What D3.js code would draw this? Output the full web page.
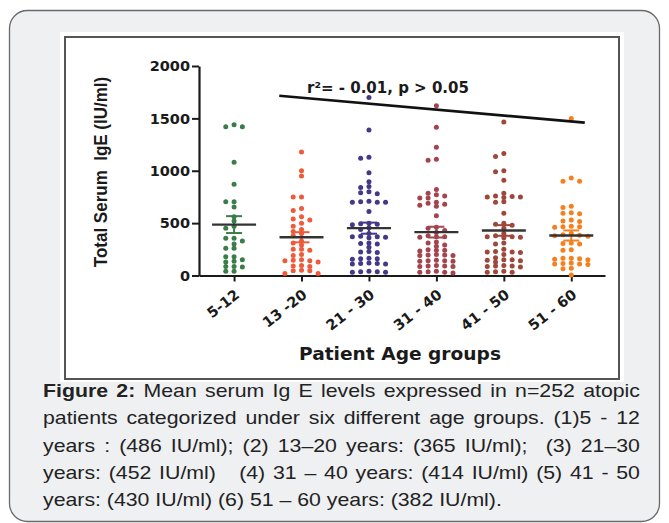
<!DOCTYPE html>
<html>
<head>
<meta charset="utf-8">
<script src="https://cdn.jsdelivr.net/npm/d3@7"></script>
<style>
  body { margin: 0; background: #fff; }
  #wrap { position: relative; width: 669px; height: 523px; overflow: hidden; }
  svg { position: absolute; left: 0; top: 0; }
  .cap {
    position: absolute; left: 43px; top: 377px; width: 533px;
    font-family: "Liberation Sans", Arial, sans-serif; font-size: 19px; line-height: 27.3px;
    color: #222; transform: scaleX(1.12); transform-origin: left top;
  }
  .cap div { text-align: justify; text-align-last: justify; white-space: nowrap; }
  .cap div.last { text-align-last: left; }
</style>
</head>
<body>
<div id="wrap">
  <svg id="chart" width="669" height="523"></svg>
  <div class="cap">
    <div><b>Figure 2:</b> Mean serum Ig E levels expressed in n=252 atopic</div>
    <div>patients categorized under six different age groups. (1)5 - 12</div>
    <div>years : (486 IU/ml); (2) 13–20 years: (365 IU/ml);&nbsp; (3) 21–30</div>
    <div>years: (452 IU/ml)&nbsp;&nbsp; (4) 31 – 40 years: (414 IU/ml) (5) 41 - 50</div>
    <div class="last">years: (430 IU/ml) (6) 51 – 60 years: (382 IU/ml).</div>
  </div>
</div>
<script>
// age groups and the mean IgE of each (from the caption)
const groups = ["5-12", "13 -20", "21 - 30", "31 - 40", "41 - 50", "51 - 60"];
const means = [486, 365, 452, 414, 430, 382];

// individual patients (IU/ml)
const g1 = [1420, 1420, 1440, 1080, 870, 705, 705, 655, 560, 520, 470, 450, 355, 355, 330, 300,
  260, 260, 180, 180, 150, 135, 130, 85, 85, 80, 40, 40];
const g2 = [1180, 1000, 950, 750, 750, 640, 620, 560, 540, 530, 500, 470, 440, 420, 400, 380,
  330, 310, 290, 250, 250, 240, 200, 190, 150, 145, 140, 140, 130, 95, 90, 85, 50, 45, 45, 20, 20];
const g3 = [1700, 1390, 1130, 1120, 980, 895, 850, 840, 800, 790, 780, 710, 705, 700, 700, 700,
  610, 500, 495, 490, 485, 455, 440, 400, 375, 370, 370, 365, 360, 310, 305, 300, 270, 230, 225,
  220, 165, 160, 160, 155, 120, 115, 115, 110, 110, 40, 35, 35, 30, 30];
const g4 = [1620, 1415, 1225, 1110, 1100, 820, 785, 770, 760, 740, 740, 700, 690, 680, 670, 660,
  570, 460, 450, 430, 410, 380, 370, 370, 365, 320, 310, 290, 280, 245, 240, 240, 235, 200, 195,
  195, 190, 190, 145, 140, 140, 135, 135, 95, 90, 90, 85, 85, 40, 35, 30, 30, 25];
const g5 = [1465, 1165, 1135, 1000, 990, 910, 785, 760, 755, 750, 750, 745, 705, 700, 595, 500,
  490, 480, 450, 400, 380, 370, 370, 365, 360, 310, 300, 250, 230, 225, 225, 220, 200, 170, 150,
  150, 145, 140, 130, 95, 90, 90, 85, 80, 40, 35, 30, 30];
const g6 = [1500, 930, 900, 900, 660, 650, 600, 595, 590, 530, 520, 515, 470, 465, 465, 460, 400,
  390, 385, 380, 375, 310, 305, 300, 245, 240, 165, 165, 160, 155, 150, 120, 115, 110, 110, 105,
  70, 65, 5];
const series = [g1, g2, g3, g4, g5, g6];

const yTicks = [0, 500, 1000, 1500, 2000];

// regression line ends (group position, IU/ml)
const trendX = [0.67, 5.2];
const trendY = [1716, 1459];

const colors = ["#3a7d49", "#ee5a3a", "#463889", "#a3444e", "#9d483b", "#f5801f"];

const svg = d3.select("#chart");

svg.append("rect")
  .attr("x", 9.5).attr("y", 10.5).attr("width", 650).attr("height", 511).attr("rx", 18)
  .attr("fill", "#eff0f2").attr("stroke", "#6a6a6a").attr("stroke-width", 1.3);
svg.append("rect")
  .attr("x", 60).attr("y", 32).attr("width", 564).attr("height", 350).attr("fill", "#fff");
svg.append("rect")
  .attr("x", 65).attr("y", 37).attr("width", 554).attr("height", 342)
  .attr("fill", "none").attr("stroke", "#555").attr("stroke-width", 2);

const x = d3.scaleLinear().domain([-0.52, 5.5]).range([199, 605]);
const y = d3.scaleLinear().domain([0, 2000]).range([275.5, 66]);

const axisFont = "'DejaVu Sans', sans-serif";

const yAxis = svg.append("g")
  .attr("transform", "translate(199,0)")
  .call(d3.axisLeft(y).tickValues(yTicks).tickFormat(d3.format("d"))
    .tickSizeInner(7).tickSizeOuter(0).tickPadding(2));
const xAxis = svg.append("g")
  .attr("transform", "translate(0,275.5)")
  .call(d3.axisBottom(x).tickValues(d3.range(groups.length)).tickFormat(i => groups[i])
    .tickSizeInner(6).tickSizeOuter(0));

[yAxis, xAxis].forEach(a => {
  a.select(".domain").attr("stroke", "#1a1a1a").attr("stroke-width", 2.2);
  a.selectAll(".tick line").attr("stroke", "#1a1a1a").attr("stroke-width", 2);
  a.selectAll("text").attr("fill", "#1a1a1a").attr("font-family", axisFont)
    .attr("font-weight", "bold").attr("font-size", 14.5);
});
xAxis.selectAll("text")
  .attr("y", 0).attr("dy", 0).attr("font-size", 14.5)
  .attr("text-anchor", "end")
  .attr("transform", "translate(6,21) rotate(-38)");

// column scatter: same values spread sideways in slots
function swarm(vals, i) {
  const placed = [];
  return vals.slice().sort((a, b) => b - a).map(v => {
    const py = y(v);
    for (let k = 0; k < 30; k++) {
      const slot = k === 0 ? 0 : (k % 2 ? -Math.ceil(k / 2) : Math.ceil(k / 2));
      if (!placed.some(p => p.slot === slot && Math.abs(p.py - py) < 4)) {
        placed.push({ slot, py });
        return { px: x(i) + slot * 8.3, py };
      }
    }
  });
}

series.forEach((vals, i) => {
  const g = svg.append("g");
  g.selectAll("circle")
    .data(swarm(vals, i))
    .enter()
    .append("circle")
    .attr("cx", d => d.px)
    .attr("cy", d => d.py)
    .attr("r", 2.5)
    .attr("fill", colors[i]);

  const sem = d3.deviation(vals) / Math.sqrt(vals.length);
  const m = means[i];
  g.append("line")
    .attr("x1", x(i)).attr("x2", x(i)).attr("y1", y(m - sem)).attr("y2", y(m + sem))
    .attr("stroke", colors[i]).attr("stroke-width", 2);
  [m - sem, m + sem].forEach(v => g.append("line")
    .attr("x1", x(i) - 8).attr("x2", x(i) + 8).attr("y1", y(v)).attr("y2", y(v))
    .attr("stroke", colors[i]).attr("stroke-width", 2));
  g.append("line")
    .attr("x1", x(i) - 22).attr("x2", x(i) + 22).attr("y1", y(m)).attr("y2", y(m))
    .attr("stroke", "#333").attr("stroke-width", 2.4);
});

svg.append("line")
  .attr("x1", x(trendX[0])).attr("y1", y(trendY[0]))
  .attr("x2", x(trendX[1])).attr("y2", y(trendY[1]))
  .attr("stroke", "#111").attr("stroke-width", 2.6);

svg.append("text")
  .attr("x", 307).attr("y", 92.5)
  .attr("font-family", axisFont).attr("font-weight", "bold").attr("font-size", 15)
  .attr("fill", "#1a1a1a")
  .text("r²= - 0.01, p > 0.05");

svg.append("text")
  .attr("transform", "translate(107,172) scale(1.13,1) rotate(-90)")
  .attr("text-anchor", "middle")
  .attr("font-family", "'Liberation Sans', Arial, sans-serif").attr("font-weight", "bold")
  .attr("font-size", 17).attr("fill", "#1a1a1a")
  .style("white-space", "pre")
  .text("Total Serum  IgE (IU/ml)");

svg.append("text")
  .attr("x", 400).attr("y", 360)
  .attr("text-anchor", "middle")
  .attr("font-family", axisFont).attr("font-weight", "bold").attr("font-size", 17)
  .attr("textLength", 202).attr("lengthAdjust", "spacingAndGlyphs")
  .attr("fill", "#1a1a1a")
  .text("Patient Age groups");
</script>
</body>
</html>
